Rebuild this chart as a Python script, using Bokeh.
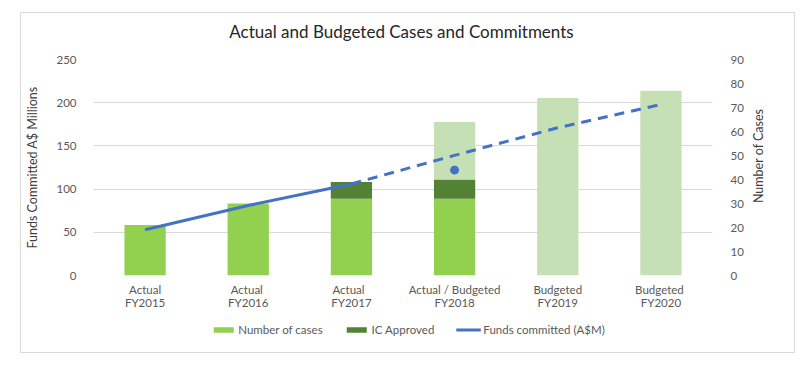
from bokeh.plotting import figure
from bokeh.layouts import column, row
from bokeh.models import (Range1d, LinearAxis, CategoricalAxis, FactorRange, ColumnDataSource,
                          Legend, LegendItem, FixedTicker, Div)
from bokeh.embed import file_html
from bokeh.resources import INLINE

# ---- data ----
title_text = "Actual and Budgeted Cases and Commitments"
left_axis_title = "Funds Committed A$ Millions"
right_axis_title = "Number of Cases"
years = ["FY2015", "FY2016", "FY2017", "FY2018", "FY2019", "FY2020"]
status_labels = ["Actual", "Actual ", "Actual  ", "Actual / Budgeted", "Budgeted", "Budgeted "]
cases_actual = [21, 30, 32, 32, 0, 0]
ic_approved = [0, 0, 7, 8, 0, 0]
cases_budgeted = [0, 0, 0, 24, 74, 77]

funds_actual_years = ["FY2015", "FY2016", "FY2017"]
funds_actual = [53, 81, 106]
funds_budget_years = ["FY2017", "FY2018", "FY2019", "FY2020"]
funds_budget = [106, 139, 171, 198]
funds_fy2018_year = ["FY2018"]
funds_fy2018_actual = [122]

left_ticks = [0, 50, 100, 150, 200, 250]
right_ticks = [0, 10, 20, 30, 40, 50, 60, 70, 80, 90]

GREEN = "#92D050"
DARK = "#548235"
LIGHT = "#C5E0B4"
BLUE = "#4472C4"
GRID = "#D9D9D9"
TXT = "#595959"
FONT = "Lato"

base1 = [a + b for a, b in zip(cases_actual, ic_approved)]
top1 = [a + b for a, b in zip(base1, cases_budgeted)]
src = ColumnDataSource(dict(x=years, actual=cases_actual, base1=base1, top1=top1))

# ---- title strip ----
title_div = Div(text=('<div style="width:761px;text-align:center;font:17px Lato;'
                      'color:#262626;line-height:38px;white-space:nowrap">'
                      + title_text + '</div>'),
                width=773, height=36, margin=0)

# ---- main chart ----
p = figure(x_range=FactorRange(*years, range_padding=0), y_range=Range1d(0, 250),
           width=725, height=266, output_backend="svg", toolbar_location=None,
           min_border_left=72, min_border_right=28, min_border_top=10, min_border_bottom=40)
p.margin = 0
p.outline_line_color = None

p.extra_y_ranges = {"cases": Range1d(0, 90)}
p.extra_x_ranges = {"status": FactorRange(*status_labels, range_padding=0)}

r_actual = p.vbar(x="x", top="actual", bottom=0, width=0.4, source=src,
                  fill_color=GREEN, line_color=None, y_range_name="cases")
r_ic = p.vbar(x="x", top="base1", bottom="actual", width=0.4, source=src,
              fill_color=DARK, line_color=None, y_range_name="cases")
p.vbar(x="x", top="top1", bottom="base1", width=0.4, source=src,
       fill_color=LIGHT, line_color=None, y_range_name="cases")

p.line(funds_actual_years, funds_actual, line_color=BLUE, line_width=3)
p.line(funds_budget_years, funds_budget, line_color=BLUE, line_width=3, line_dash="10 7")
p.scatter(funds_fy2018_year, funds_fy2018_actual, size=8, fill_color=BLUE, line_color=BLUE)

# axes
p.yaxis.ticker = FixedTicker(ticks=left_ticks)
p.yaxis.axis_label = left_axis_title
ax_r = LinearAxis(y_range_name="cases", ticker=FixedTicker(ticks=right_ticks))
p.add_layout(ax_r, "right")

for ax in [p.yaxis[0], ax_r]:
    ax.axis_line_color = None
    ax.major_tick_line_color = None
    ax.minor_tick_line_color = None
    ax.major_label_text_font = FONT
    ax.major_label_text_font_size = "11.5px"
    ax.major_label_text_color = TXT
    ax.axis_label_text_font = FONT
    ax.axis_label_text_font_size = "12.5px"
    ax.axis_label_text_font_style = "normal"
    ax.axis_label_text_color = "#404040"
p.yaxis[0].major_label_standoff = 11
p.yaxis[0].axis_label_standoff = 13
ax_r.major_label_standoff = 12

# x axes: status line on top, year line under it
p.xaxis.visible = False
xa = CategoricalAxis(x_range_name="status")
xa.major_label_standoff = 7
xa2 = CategoricalAxis()
xa2.major_label_standoff = -3
p.add_layout(xa, "below")
p.add_layout(xa2, "below")
for ax in [xa, xa2]:
    ax.axis_line_color = None
    ax.major_tick_line_color = None
    ax.minor_tick_line_color = None
    ax.major_tick_out = 0
    ax.major_label_text_font = FONT
    ax.major_label_text_font_size = "11.5px"
    ax.major_label_text_color = TXT

p.xgrid.grid_line_color = None
p.ygrid.grid_line_color = GRID

# ---- right axis title (reads bottom to top) ----
right_div = Div(text=('<div style="margin-top:60px;margin-left:5px;writing-mode:vertical-rl;'
                      'transform:rotate(180deg);font:12.5px Lato;color:#404040;'
                      'white-space:nowrap">' + right_axis_title + '</div>'),
                width=48, height=266, margin=0)

# ---- legend strip below the chart (its handles sit outside the visible range) ----
pl = figure(x_range=FactorRange(*years), y_range=Range1d(1000, 1001),
            width=773, height=37, output_backend="svg", toolbar_location=None,
            x_axis_type=None, y_axis_type=None, min_border=0)
pl.margin = 0
pl.outline_line_color = None
pl.xgrid.grid_line_color = None
pl.ygrid.grid_line_color = None
h_actual = pl.vbar(x="x", top="actual", bottom=0, width=0.4, source=src,
                   fill_color=GREEN, line_color=None)
h_ic = pl.vbar(x="x", top="base1", bottom="actual", width=0.4, source=src,
               fill_color=DARK, line_color=None)
h_line = pl.line(funds_actual_years, funds_actual, line_color=BLUE, line_width=3)

legend = Legend(items=[LegendItem(label="Number of cases", renderers=[h_actual]),
                       LegendItem(label="IC Approved", renderers=[h_ic]),
                       LegendItem(label="Funds committed (A$M)", renderers=[h_line])],
                orientation="horizontal", location="top_center", margin=8, padding=0,
                label_text_font=FONT, label_text_font_size="11.5px", label_text_color=TXT,
                glyph_width=25, glyph_height=7, spacing=21, label_standoff=3,
                border_line_color=None, background_fill_alpha=0)
pl.add_layout(legend)

lay = column(title_div, row(p, right_div, spacing=0), pl, spacing=0)
lay.margin = (12, 0, 0, 20)
lay.styles = {"border": "1px solid #D9D9D9"}

open("out.html", "w").write(file_html(lay, INLINE))
